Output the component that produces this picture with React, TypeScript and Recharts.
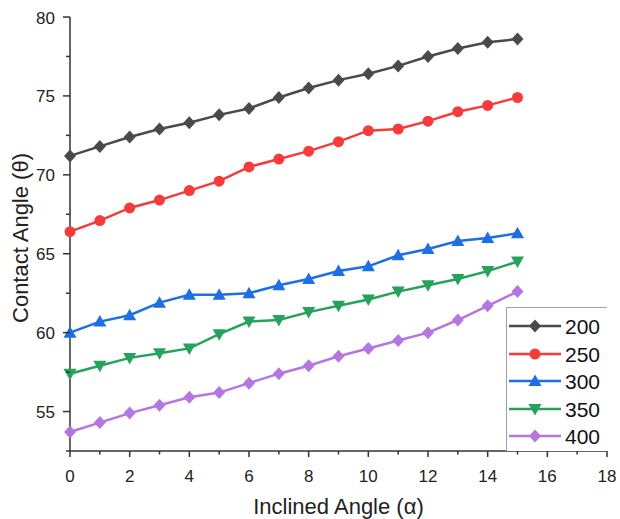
import React from "react";
import { LineChart, Line, XAxis, YAxis } from "recharts";

const inclinedAngle = [0, 1, 2, 3, 4, 5, 6, 7, 8, 9, 10, 11, 12, 13, 14, 15];
const s200 = [71.2, 71.8, 72.4, 72.9, 73.3, 73.8, 74.2, 74.9, 75.5, 76.0, 76.4, 76.9, 77.5, 78.0, 78.4, 78.6];
const s250 = [66.4, 67.1, 67.9, 68.4, 69.0, 69.6, 70.5, 71.0, 71.5, 72.1, 72.8, 72.9, 73.4, 74.0, 74.4, 74.9];
const s300 = [60.0, 60.7, 61.1, 61.9, 62.4, 62.4, 62.5, 63.0, 63.4, 63.9, 64.2, 64.9, 65.3, 65.8, 66.0, 66.3];
const s350 = [57.4, 57.9, 58.4, 58.7, 59.0, 59.9, 60.7, 60.8, 61.3, 61.7, 62.1, 62.6, 63.0, 63.4, 63.9, 64.5];
const s400 = [53.7, 54.3, 54.9, 55.4, 55.9, 56.2, 56.8, 57.4, 57.9, 58.5, 59.0, 59.5, 60.0, 60.8, 61.7, 62.6];

const xTicks = [0, 1, 2, 3, 4, 5, 6, 7, 8, 9, 10, 11, 12, 13, 14, 15, 16, 17, 18];
const yTicks = [52.5, 55, 57.5, 60, 62.5, 65, 67.5, 70, 72.5, 75, 77.5, 80];

const data = inclinedAngle.map((a, i) => ({
  a,
  s200: s200[i],
  s250: s250[i],
  s300: s300[i],
  s350: s350[i],
  s400: s400[i],
}));

const series = [
  { key: "s200", name: "200", color: "#4a4a4a", shape: "diamond" },
  { key: "s250", name: "250", color: "#f53b3b", shape: "circle" },
  { key: "s300", name: "300", color: "#1d6fe3", shape: "up" },
  { key: "s350", name: "350", color: "#27a25d", shape: "down" },
  { key: "s400", name: "400", color: "#b476e0", shape: "diamond" },
];

const axisColor = "#333";
const font = "'Liberation Sans', Arial, sans-serif";

function Marker({ cx, cy, shape, color }: any) {
  if (cx == null || cy == null) return null;
  if (shape === "circle") return <circle cx={cx} cy={cy} r={5.5} fill={color} />;
  if (shape === "diamond")
    return <polygon points={`${cx},${cy - 6.5} ${cx + 6},${cy} ${cx},${cy + 6.5} ${cx - 6},${cy}`} fill={color} />;
  if (shape === "up")
    return <polygon points={`${cx},${cy - 6.5} ${cx + 6.5},${cy + 5} ${cx - 6.5},${cy + 5}`} fill={color} />;
  return <polygon points={`${cx},${cy + 6.5} ${cx + 6.5},${cy - 5} ${cx - 6.5},${cy - 5}`} fill={color} />;
}

function XTick({ x, y, payload }: any) {
  const v = payload.value;
  const major = v % 2 === 0;
  return (
    <g>
      <line x1={x} x2={x} y1={y} y2={y + (major ? 6 : 3.5)} stroke={axisColor} strokeWidth={1.5} />
      {major && (
        <text x={x} y={y + 31} textAnchor="middle" fontSize={17} fill="#222" fontFamily={font}>
          {v}
        </text>
      )}
    </g>
  );
}

function YTick({ x, y, payload }: any) {
  const v = payload.value;
  const major = v % 5 === 0;
  return (
    <g>
      <line x1={x} x2={x - (major ? 7 : 4)} y1={y} y2={y} stroke={axisColor} strokeWidth={1.5} />
      {major && (
        <text x={x - 15} y={y + 6.5} textAnchor="end" fontSize={17} fill="#222" fontFamily={font}>
          {v}
        </text>
      )}
    </g>
  );
}

function LegendBox() {
  return (
    <div
      style={{
        position: "absolute",
        left: 506,
        top: 307,
        width: 100,
        height: 143,
        border: "1px solid #a0a0a0",
        borderRight: "none",
        borderBottom: "none",
        background: "#fff",
      }}
    >
      {series.map((s, i) => (
        <svg key={s.key} width={100} height={27.5} style={{ display: "block", marginTop: i === 0 ? 4 : 0 }}>
          <line x1={2} x2={54} y1={14} y2={14} stroke={s.color} strokeWidth={2.5} />
          <Marker cx={28} cy={14} shape={s.shape} color={s.color} />
          <text x={58} y={22} fontSize={21} fill="#111" fontFamily={font}>
            {s.name}
          </text>
        </svg>
      ))}
    </div>
  );
}

export default function App() {
  return (
    <div style={{ position: "absolute", left: 0, top: 0, width: 620, height: 519, background: "#fff" }}>
      <LineChart width={620} height={519} data={data} margin={{ top: 17, right: 13, bottom: 0, left: 0 }}>
        <XAxis
          dataKey="a"
          type="number"
          domain={[0, 18]}
          ticks={xTicks}
          interval={0}
          height={68}
          tickSize={0}
          tickMargin={0}
          tickLine={false}
          tick={<XTick />}
          axisLine={{ stroke: axisColor, strokeWidth: 1.5 }}
          label={{ value: "Inclined Angle (α)", position: "insideBottom", offset: 5, fontSize: 22, fill: "#222", fontFamily: font }}
        />
        <XAxis xAxisId="top" orientation="top" dataKey="a" type="number" domain={[0, 18]} height={0} tick={false} tickLine={false} axisLine={{ stroke: axisColor, strokeWidth: 1.5 }} />
        <YAxis
          type="number"
          domain={[52.5, 80]}
          ticks={yTicks}
          interval={0}
          width={70}
          tickSize={0}
          tickMargin={0}
          tickLine={false}
          tick={<YTick />}
          axisLine={{ stroke: axisColor, strokeWidth: 1.5 }}
        />
        <YAxis yAxisId="right" orientation="right" domain={[52.5, 80]} width={0} tick={false} tickLine={false} axisLine={{ stroke: axisColor, strokeWidth: 1.5 }} />
        {series.map((s) => (
          <Line
            key={s.key}
            dataKey={s.key}
            name={s.name}
            stroke={s.color}
            strokeWidth={2.5}
            isAnimationActive={false}
            dot={(p: any) => <Marker key={`${s.key}-${p.index}`} cx={p.cx} cy={p.cy} shape={s.shape} color={s.color} />}
            activeDot={false}
          />
        ))}
      </LineChart>
      <LegendBox />
      <div
        style={{
          position: "absolute",
          left: 21,
          top: 238,
          transform: "translate(-50%, -50%) rotate(-90deg)",
          whiteSpace: "nowrap",
          fontSize: 22,
          color: "#222",
          fontFamily: font,
        }}
      >
        Contact Angle (θ)
      </div>
    </div>
  );
}
